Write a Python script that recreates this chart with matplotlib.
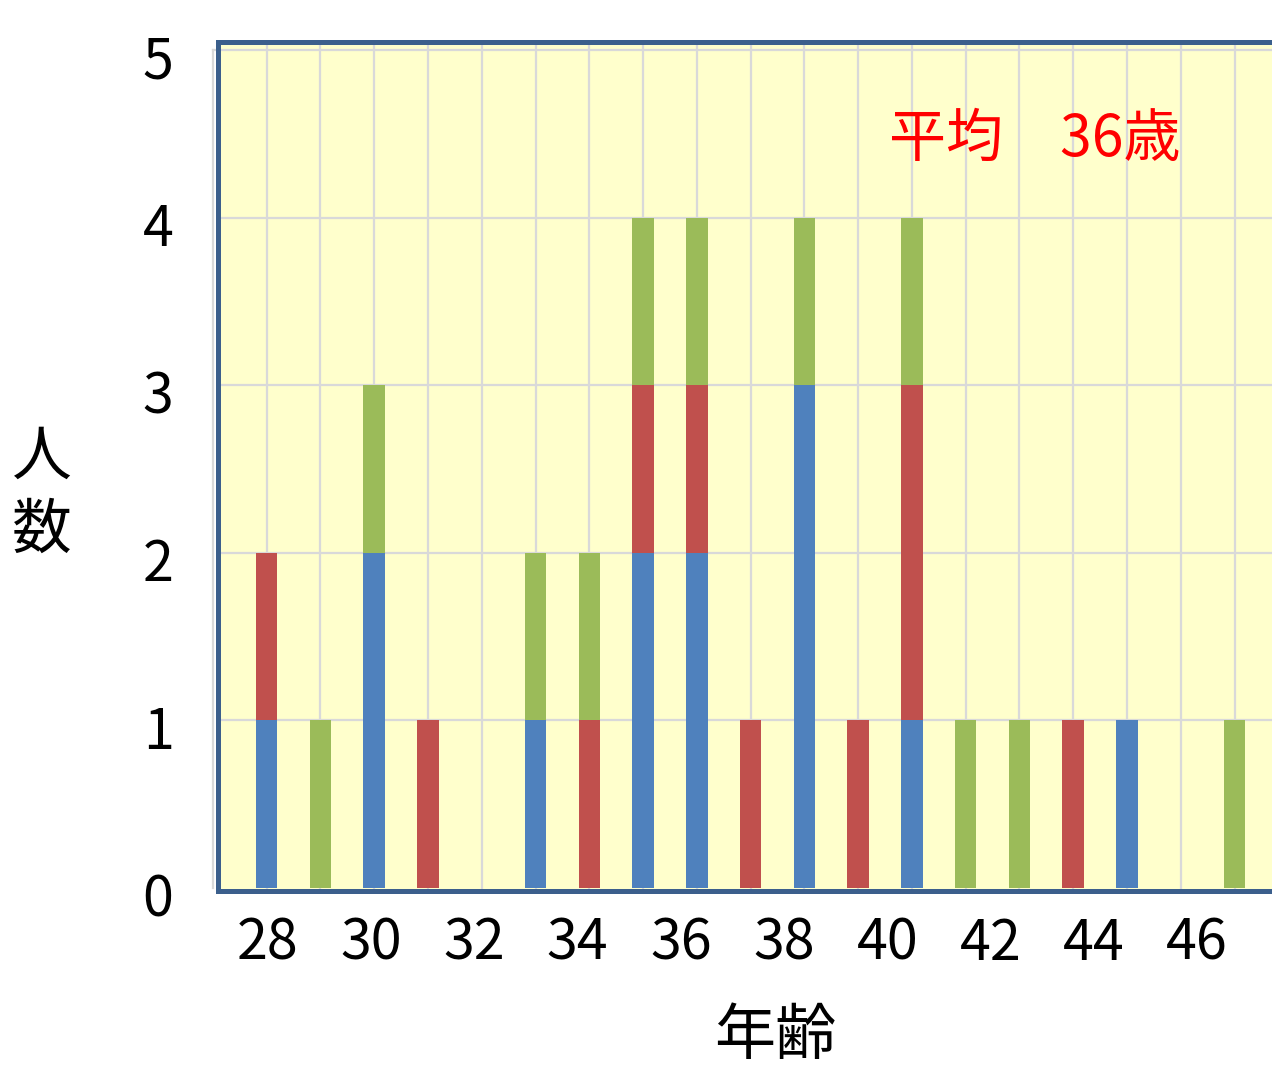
import matplotlib
matplotlib.use("Agg")
import matplotlib.pyplot as plt
import numpy as np

plt.rcParams['font.family'] = ['Noto Sans CJK JP', 'DejaVu Sans']

# Ages on the horizontal axis
ages = list(range(28, 47))
# Head counts per age, stacked bottom to top
blue = [1, 0, 2, 0, 0, 1, 0, 2, 2, 0, 3, 0, 1, 0, 0, 0, 1, 0, 0]
red = [1, 0, 0, 1, 0, 0, 1, 1, 1, 1, 0, 1, 2, 0, 0, 1, 0, 0, 0]
green = [0, 1, 1, 0, 0, 1, 1, 1, 1, 0, 1, 0, 1, 1, 1, 0, 0, 0, 1]

tick_ages = [28, 30, 32, 34, 36, 38, 40, 42, 44, 46]
y_ticks = [0, 1, 2, 3, 4, 5]

BLUE = '#4F81BD'
RED = '#C0504D'
GREEN = '#9BBB59'
SPINE = '#3B5F8C'
GRID = '#D9D9D9'
BG = '#FFFFCC'

W, H = 1272, 1068
fig = plt.figure(figsize=(W / 100, H / 100), dpi=100)
ax = fig.add_axes([218 / W, 1 - 890.5 / H, 1 - 218 / W, (890.5 - 42) / H])
ax.set_facecolor(BG)

x = np.arange(len(ages))
b = np.array(blue)
r = np.array(red)
g = np.array(green)
bw = 0.40
ax.bar(x, b, width=bw, color=BLUE, zorder=3)
ax.bar(x, r, width=bw, bottom=b, color=RED, zorder=3)
ax.bar(x, g, width=bw, bottom=b + r, color=GREEN, zorder=3)

ax.set_xlim(-0.906, 18.697)
ax.set_ylim(-0.015, 5.05)

# grid lines through every category and every whole count
for xi in x:
    ax.axvline(xi, ymin=0, ymax=1, color=GRID, lw=1.6, zorder=1)
for yv in y_ticks[1:]:
    ax.axhline(yv, color=GRID, lw=1.6, zorder=1)
# plot-area border just left of the axis line
trans = matplotlib.transforms.blended_transform_factory(ax.transAxes, ax.transData)
ax.plot([-0.0047, -0.0047], [0, 5], color=GRID, lw=1.6, transform=trans,
        clip_on=False, zorder=1)
ax.plot([-0.0047, 0.0], [5, 5], color=GRID, lw=1.6, transform=trans,
        clip_on=False, zorder=1)

for side in ['left', 'top', 'bottom']:
    ax.spines[side].set_color(SPINE)
    ax.spines[side].set_linewidth(3.6)
    ax.spines[side].set_zorder(5)
ax.spines['right'].set_visible(False)

# tick labels on the age axis are spaced slightly tighter than the bars
LABEL_STEP = 0.96
label_pos = [0.024 + (a - tick_ages[0]) * LABEL_STEP for a in tick_ages]
ax.set_xticks(label_pos)
ax.set_xticklabels([str(a) for a in tick_ages])
ax.set_yticks(y_ticks)
ax.set_yticklabels([str(v) for v in y_ticks])
ax.tick_params(axis='both', length=0, labelsize=40)
ax.tick_params(axis='x', pad=18)
ax.tick_params(axis='y', pad=32)
# count labels sit a little below their grid lines
shift = matplotlib.transforms.ScaledTranslation(0, -6 / 100, fig.dpi_scale_trans)
for lbl in ax.get_yticklabels():
    lbl.set_transform(lbl.get_transform() + shift)

fig.text(775 / W, 1 - 1037 / H, '年齢', fontsize=44, ha='center', va='center')
fig.text(42 / W, 1 - 495 / H, '人\n数', fontsize=43, ha='center', va='center',
         linespacing=1.25)
fig.text(889 / W, 1 - 140 / H, '平均\u300036歳', fontsize=41, color='#FF0000',
         ha='left', va='center')

fig.savefig('out.png', dpi=100, facecolor='white')
